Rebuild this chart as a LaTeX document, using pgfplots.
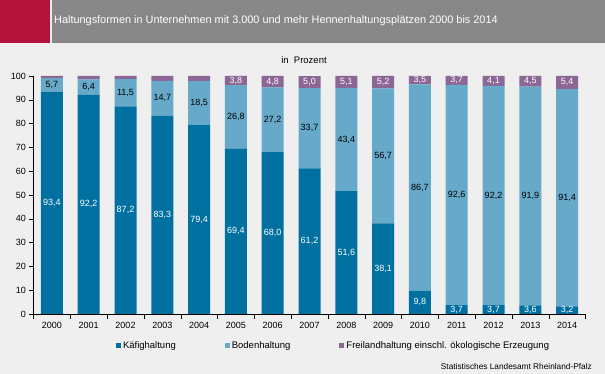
\documentclass[border=0pt]{standalone}
\usepackage{pgfplots}
\pgfplotsset{compat=1.18}
\usepackage{pgfplotstable}
\usepackage{fontspec}
\setmainfont{Liberation Sans}
\definecolor{bgc}{HTML}{EEEFEE}
\definecolor{kaefig}{HTML}{0070A1}
\definecolor{boden}{HTML}{66A9C8}
\definecolor{frei}{HTML}{8C6694}
\definecolor{titlegray}{HTML}{878787}
\definecolor{titlered}{HTML}{B5133C}
\pgfplotstableread{
x year k b f
0 2000 93.4 5.7 0.9
1 2001 92.2 6.4 1.4
2 2002 87.2 11.5 1.3
3 2003 83.3 14.7 2.0
4 2004 79.4 18.5 2.1
5 2005 69.4 26.8 3.8
6 2006 68.0 27.2 4.8
7 2007 61.2 33.7 5.0
8 2008 51.6 43.4 5.1
9 2009 38.1 56.7 5.2
10 2010 9.8 86.7 3.5
11 2011 3.7 92.6 3.7
12 2012 3.7 92.2 4.1
13 2013 3.6 91.9 4.5
14 2014 3.2 91.4 5.4
}\data
\begin{document}
\begin{tikzpicture}
\fill[bgc] (0pt,0pt) rectangle (605pt,374pt);
\useasboundingbox (0pt,0pt) rectangle (605pt,374pt);
\coordinate (ax) at (33.5pt,60pt);
\fill[titlered] (0pt,331pt) rectangle (50pt,374pt);
\fill[titlegray] (52pt,331pt) rectangle (605pt,374pt);
\node[anchor=west, text=white, font=\fontsize{10.9}{12}\selectfont, inner sep=0pt] at (54pt,353pt) {Haltungsformen in Unternehmen mit 3.000 und mehr Hennenhaltungsplätzen 2000 bis 2014};
\node[font=\fontsize{9.5}{11}\selectfont] at (304pt,314pt) {in\ \ Prozent};
\node[anchor=east, font=\fontsize{8.3}{9}\selectfont, inner sep=0pt] at (592pt,7pt) {Statistisches Landesamt Rheinland-Pfalz};
\begin{axis}[
  at={(ax)}, anchor=south west, scale only axis,
  width=552pt, height=238pt,
  ybar stacked, bar width=22pt,
  xmin=-0.5, xmax=14.5, ymin=0, ymax=100,
  enlargelimits=false,
  ytick={0,10,...,100},
  xtick={0,...,14},
  xticklabels from table={\data}{year},
  minor xtick={-0.5,0.5,...,14.5},
  axis x line*=bottom, axis y line*=left,
  axis line style={black, thin, -},
  tick style={black, thin},
  major x tick style={draw=none},
  tick align=outside,
  major tick length=4pt,
  minor tick length=5pt,
  ticklabel style={font=\fontsize{9}{10}\selectfont},
  /pgf/number format/assume math mode=true,
  xticklabel style={yshift=-1pt},
  legend columns=3,
  legend style={at={(0.1437,-0.134)}, anchor=west, draw=none, fill=none,
    font=\fontsize{9.5}{11}\selectfont,
    /tikz/every even column/.append style={column sep=47pt}},
  legend image code/.code={\fill[#1] (0pt,-2.5pt) rectangle (5pt,2.5pt);},
]
\addplot[fill=kaefig, draw=none] table[x=x, y=k]{\data};
\addplot[fill=boden, draw=none] table[x=x, y=b]{\data};
\addplot[fill=frei, draw=none] table[x=x, y=f]{\data};
\legend{Käfighaltung, Bodenhaltung, Freilandhaltung einschl. ökologische Erzeugung}
\end{axis}
\begin{axis}[
  at={(ax)}, anchor=south west, scale only axis,
  width=552pt, height=238pt,
  xmin=-0.5, xmax=14.5, ymin=0, ymax=100,
  hide axis,
  nodes near coords, point meta=explicit,
  /pgf/number format/.cd, use comma, fixed, fixed zerofill, precision=1, 1000 sep={}, assume math mode=true, /pgfplots/.cd,
  every node near coord/.append style={anchor=center, inner sep=0pt, font=\fontsize{9}{10}\selectfont},
]
\addplot[draw=none, mark=none, nodes near coords style={text=white}] table[x=x, y expr=\thisrow{k}/2, meta=k]{\data};
\addplot[draw=none, mark=none, nodes near coords style={text=black}] table[x=x, y expr=\thisrow{k}+\thisrow{b}/2, meta=b]{\data};
\addplot[draw=none, mark=none, nodes near coords style={text=white}, skip coords between index={0}{5}] table[x=x, y expr=\thisrow{k}+\thisrow{b}+\thisrow{f}/2, meta=f]{\data};
\end{axis}
\end{tikzpicture}
\end{document}
